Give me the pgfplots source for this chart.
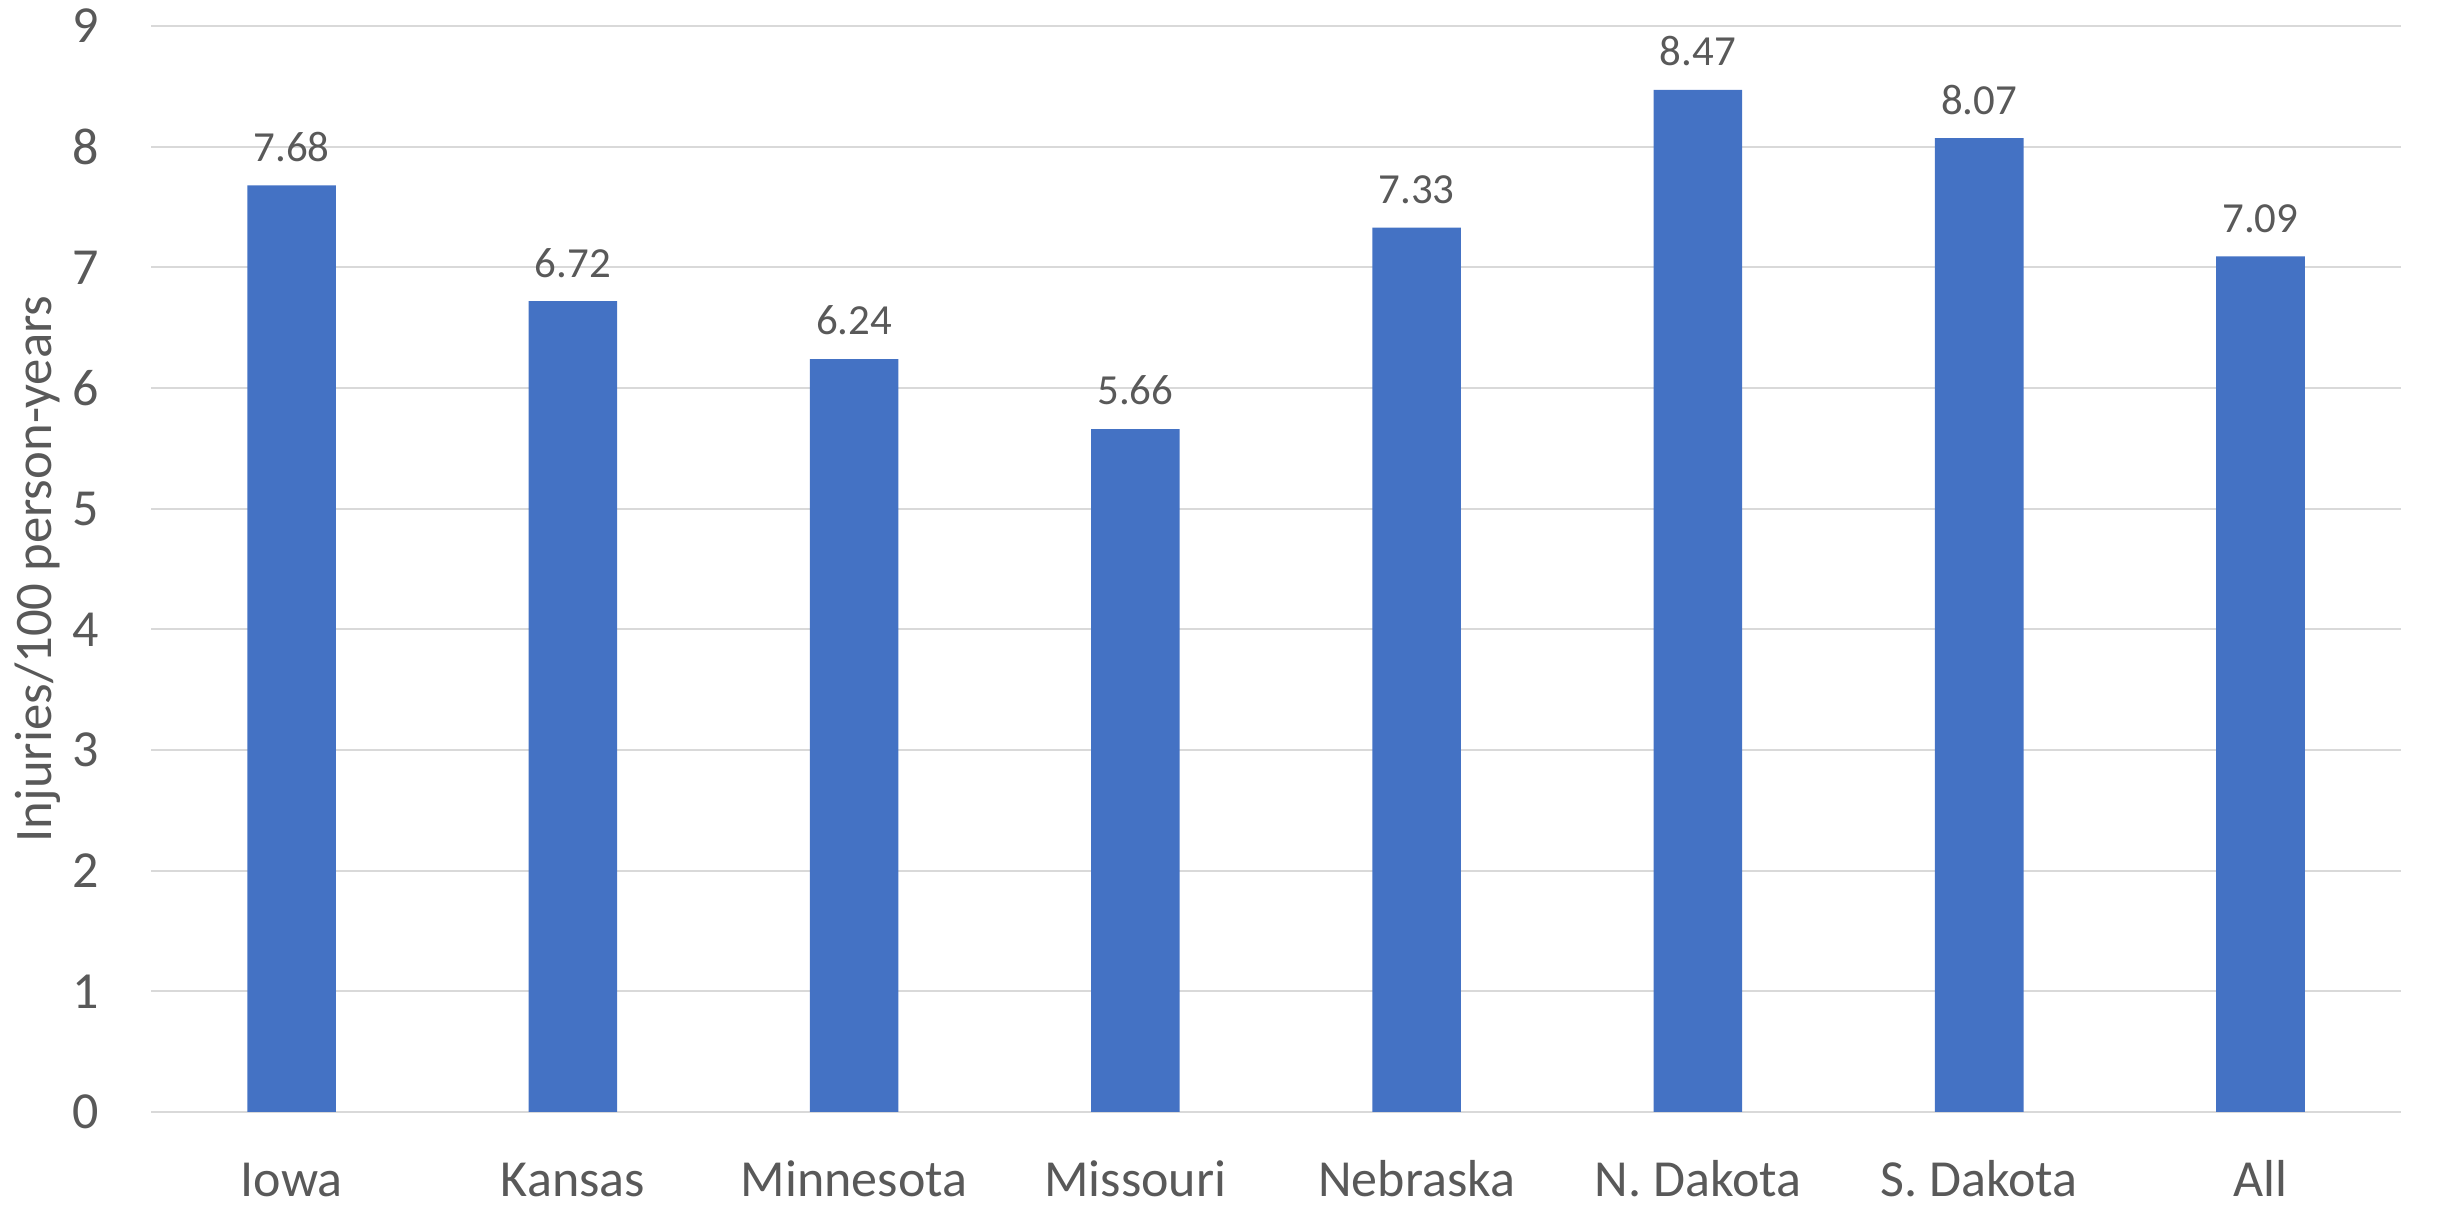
\documentclass[border=0pt]{standalone}
\usepackage{fontspec}
\setmainfont{Carlito}
\usepackage{pgfplots}
\pgfplotsset{compat=1.18}

\definecolor{barblue}{HTML}{4472C4}
\definecolor{txtgray}{HTML}{595959}
\definecolor{gridgray}{HTML}{D9D9D9}

\begin{document}
\begin{tikzpicture}
  % page is 244.5mm x 120.5mm (0.1mm per pixel of the reference)
  \useasboundingbox (0,0) rectangle (244.5mm,120.5mm);
  \begin{axis}[
      at={(15.1mm,9.3mm)}, anchor=south west,
      scale only axis,
      width=225mm, height=108.6mm,
      /pgf/number format/assume math mode=true,
      xmin=-0.5, xmax=7.5,
      ymin=0, ymax=9,
      ytick={0,1,...,9},
      xtick={0,...,7},
      xticklabels={Iowa,Kansas,Minnesota,Missouri,Nebraska,N. Dakota,S. Dakota,All},
      major tick length=0pt,
      axis line style={draw=none},
      ymajorgrids,
      grid style={draw=gridgray, line width=0.6pt},
      ticklabel style={font=\fontsize{14.8}{17}\selectfont, text=txtgray},
      yticklabel style={anchor=east, inner sep=0pt, xshift=-5.1mm},
      xticklabel style={anchor=base, inner sep=0pt, yshift=-8.5mm},
      ylabel={Injuries/100 person-years},
      % rotated frame: local y points left
      every axis y label/.style={at={(rel axis cs:0,0.5)}, rotate=90, anchor=base,
        yshift=9.9mm, font=\fontsize{15}{17}\selectfont, text=txtgray},
      nodes near coords,
      nodes near coords style={font=\fontsize{12.2}{14}\selectfont, text=txtgray,
        anchor=south, inner sep=0pt, yshift=2.3mm,
        /pgf/number format/.cd, fixed, fixed zerofill, precision=2},
    ]
    \addplot[ybar, bar width=8.87mm, fill=barblue, draw=none] coordinates {
        (0,7.68) (1,6.72) (2,6.24) (3,5.66) (4,7.33) (5,8.47) (6,8.07) (7,7.09)
      };
  \end{axis}
\end{tikzpicture}
\end{document}
